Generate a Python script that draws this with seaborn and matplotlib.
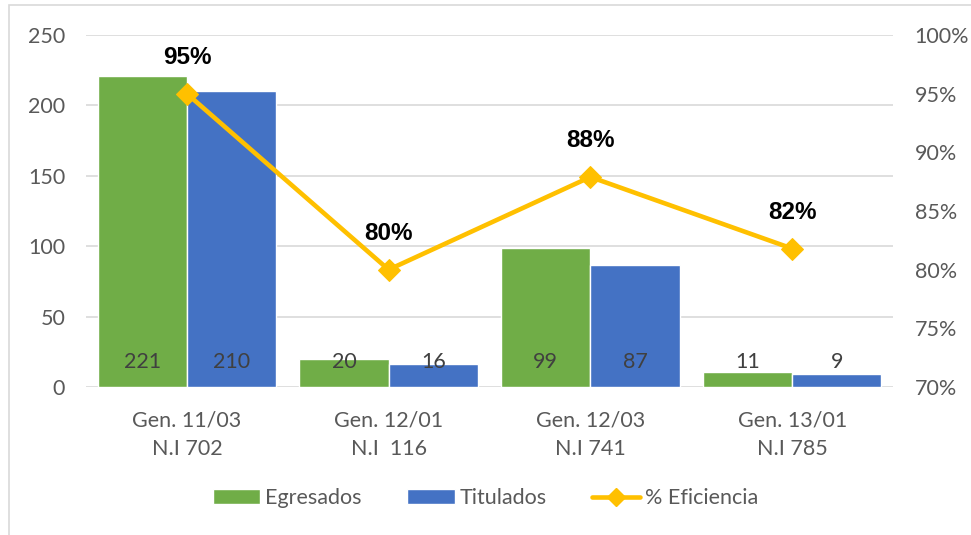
import numpy as np
import pandas as pd
import seaborn as sns
import matplotlib.pyplot as plt
from matplotlib.lines import Line2D
from matplotlib.patches import Patch, Rectangle

# data
categorias = ["Gen. 11/03\nN.I 702", "Gen. 12/01\nN.I  116", "Gen. 12/03\nN.I 741", "Gen. 13/01\nN.I 785"]
egresados = [221, 20, 99, 11]
titulados = [210, 16, 87, 9]
eficiencia = [0.950, 0.800, 0.879, 0.818]
eficiencia_txt = ["95%", "80%", "88%", "82%"]

df = pd.DataFrame({
    "cat": categorias * 2,
    "serie": ["Egresados"] * 4 + ["Titulados"] * 4,
    "valor": egresados + titulados,
})

sns.set_style("white")
plt.rcParams['font.family'] = ['Lato', 'DejaVu Sans']

verde = "#70AD47"
azul = "#4472C4"
oro = "#FFC000"
gris_txt = "#595959"
fs = 15.5

fig = plt.figure(figsize=(9.71, 5.35), dpi=100)
ax = fig.add_axes([86 / 971, 1 - 387 / 535, (893 - 86) / 971, (387 - 35) / 535])

sns.barplot(data=df, x="cat", y="valor", hue="serie", palette=[verde, azul],
            width=0.885, gap=0, ax=ax, legend=False, saturation=1)

ax.set_ylim(0, 250)
ax.set_yticks(range(0, 251, 50))
ax.set_xlim(-0.5, 3.5)
ax.yaxis.grid(True, color="#D9D9D9", linewidth=1.2)
ax.set_axisbelow(True)
for s in ax.spines.values():
    s.set_visible(False)
ax.set_xlabel("")
ax.set_ylabel("")
ax.tick_params(axis="both", length=0, labelsize=fs, labelcolor=gris_txt)
ax.tick_params(axis="y", pad=15)
ax.tick_params(axis="x", pad=17)
for lab in ax.get_xticklabels():
    lab.set_linespacing(1.5)

# value labels near the base of each bar
for cont in ax.containers:
    for rect in cont:
        ax.annotate(f"{int(round(rect.get_height()))}",
                    (rect.get_x() + rect.get_width() / 2, 0),
                    xytext=(0, 18), textcoords="offset points",
                    ha="center", va="center", fontsize=fs, color="#404040")

ax2 = ax.twinx()
x_pos = np.arange(len(categorias))
sns.lineplot(x=x_pos, y=eficiencia, ax=ax2, color=oro, linewidth=3.3,
             marker="D", markersize=11, markeredgecolor=oro, markerfacecolor=oro)
ax2.set_ylim(0.70, 1.00)
ax2.set_yticks(np.arange(0.70, 1.001, 0.05))
ax2.set_yticklabels([f"{int(round(v * 100))}%" for v in np.arange(0.70, 1.001, 0.05)])
ax2.tick_params(axis="y", length=0, labelsize=fs, labelcolor=gris_txt, pad=15.5)
for s in ax2.spines.values():
    s.set_visible(False)
ax2.set_xlim(-0.5, 3.5)

for xi, yi, t in zip(x_pos, eficiencia, eficiencia_txt):
    ax2.annotate(t, (xi, yi), xytext=(0, 26), textcoords="offset points",
                 ha="center", va="center", fontsize=17.5, fontweight="bold",
                 color="black", family=["Liberation Sans", "DejaVu Sans"])

handles = [
    Patch(facecolor=verde, label="Egresados"),
    Patch(facecolor=azul, label="Titulados"),
    Line2D([0], [0], color=oro, linewidth=3.3, marker="D", markersize=9, label="% Eficiencia"),
]
fig.legend(handles=handles, loc="center", bbox_to_anchor=(0.5, 1 - 498 / 535), ncol=3,
           frameon=False, fontsize=fs, labelcolor=gris_txt, handlelength=2.2,
           handleheight=0.65, columnspacing=2.1, handletextpad=0.25)

# chart border
fig.patches.append(Rectangle((8.5 / 971, -0.05), 1.2, 1 - 5 / 535 + 0.05,
                             transform=fig.transFigure, fill=False,
                             edgecolor="#D9D9D9", linewidth=1.2))

fig.savefig("out.png", dpi=100)
